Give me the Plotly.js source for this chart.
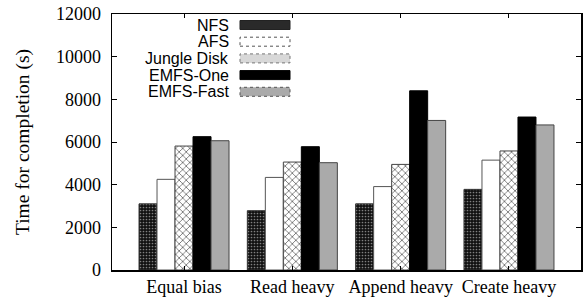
<!DOCTYPE html>
<html>
<head>
<meta charset="utf-8">
<script src="https://cdn.plot.ly/plotly-3.0.1.min.js"></script>
<style>html,body{margin:0;padding:0;background:#fff;}#chart{width:584px;height:300px;}</style>
</head>
<body>
<div id="chart"></div>
<script>
var categories = ["Equal bias", "Read heavy", "Append heavy", "Create heavy"];
var seriesNames = ["NFS", "AFS", "Jungle Disk", "EMFS-One", "EMFS-Fast"];
var nfs = [3100, 2780, 3100, 3780];
var afs = [4250, 4340, 3910, 5150];
var jungleDisk = [5810, 5060, 4950, 5580];
var emfsOne = [6250, 5780, 8400, 7170];
var emfsFast = [6060, 5030, 7010, 6800];
var yTicks = [0, 2000, 4000, 6000, 8000, 10000, 12000];

var SERIF = "'Liberation Serif', 'Times New Roman', serif";
var SANS = "'Liberation Sans', Arial, sans-serif";

var values = [nfs, afs, jungleDisk, emfsOne, emfsFast];
var markers = [
  {color: "#111111", pattern: {shape: ".", fgcolor: "#808080", bgcolor: "#111111", size: 3, solidity: 0.25}, line: {color: "#333333", width: 1}},
  {color: "#ffffff", line: {color: "#555555", width: 1}},
  {color: "#ffffff", pattern: {shape: "x", fgcolor: "#6a6a6a", bgcolor: "#ffffff", size: 5, solidity: 0.3}, line: {color: "#444444", width: 1}},
  {color: "#000000", line: {color: "#000000", width: 1}},
  {color: "#aaaaaa", line: {color: "#444444", width: 1}}
];
// legend swatch styles (custom legend: text right-aligned, swatch on the right)
var swatchFill = ["#2a2a2a", "#ffffff", "#d8d8d8", "#000000", "#aaaaaa"];
var swatchLine = ["#222222", "#555555", "#777777", "#000000", "#555555"];
var swatchDash = ["solid", "dot", "dot", "solid", "dot"];

var traces = seriesNames.map(function (n, i) {
  return {type: "bar", name: n, x: categories, y: values[i], marker: markers[i], hoverinfo: "skip"};
});

var plotW = 469, plotH = 256;
var rowTop = 11, rowStep = 16.7;
var shapes = [], annotations = [];
seriesNames.forEach(function (n, i) {
  var cy = rowTop + i * rowStep;
  var yc = 1 - cy / plotH;
  annotations.push({xref: "paper", yref: "paper", x: 118 / plotW, y: yc, xanchor: "right", yanchor: "middle",
    text: n, showarrow: false, borderpad: 0, font: {family: SANS, size: 16, color: "#000"}});
  shapes.push({type: "rect", xref: "paper", yref: "paper", x0: 128 / plotW, x1: 178 / plotW,
    y0: yc - 4.5 / plotH, y1: yc + 4.5 / plotH,
    fillcolor: swatchFill[i], line: {color: swatchLine[i], width: 1, dash: swatchDash[i]}});
});

var layout = {
  width: 584, height: 300,
  margin: {l: 112, r: 3, t: 14, b: 30},
  paper_bgcolor: "#ffffff", plot_bgcolor: "#ffffff",
  barmode: "group", bargap: 0.169, bargroupgap: 0,
  showlegend: false,
  shapes: shapes, annotations: annotations,
  xaxis: {range: [-0.665, 3.665], showline: true, linecolor: "#000", linewidth: 1.5, mirror: "ticks",
          ticks: "inside", ticklen: 4, tickcolor: "#000", showgrid: false, zeroline: false,
          tickfont: {family: SERIF, size: 18, color: "#000"}},
  yaxis: {range: [0, 12000], tickvals: yTicks, tickformat: "d", showline: true, linecolor: "#000", linewidth: 1.5, mirror: "ticks",
          ticks: "inside", ticklen: 5, tickcolor: "#000", showgrid: false, zeroline: false, ticklabelstandoff: 6,
          tickfont: {family: SERIF, size: 18, color: "#000"},
          title: {text: "Time for completion (s)", standoff: 21,
                  font: {family: SERIF, size: 19.5, color: "#000"}}}
};

Plotly.newPlot("chart", traces, layout, {staticPlot: true, displayModeBar: false});
</script>
</body>
</html>
